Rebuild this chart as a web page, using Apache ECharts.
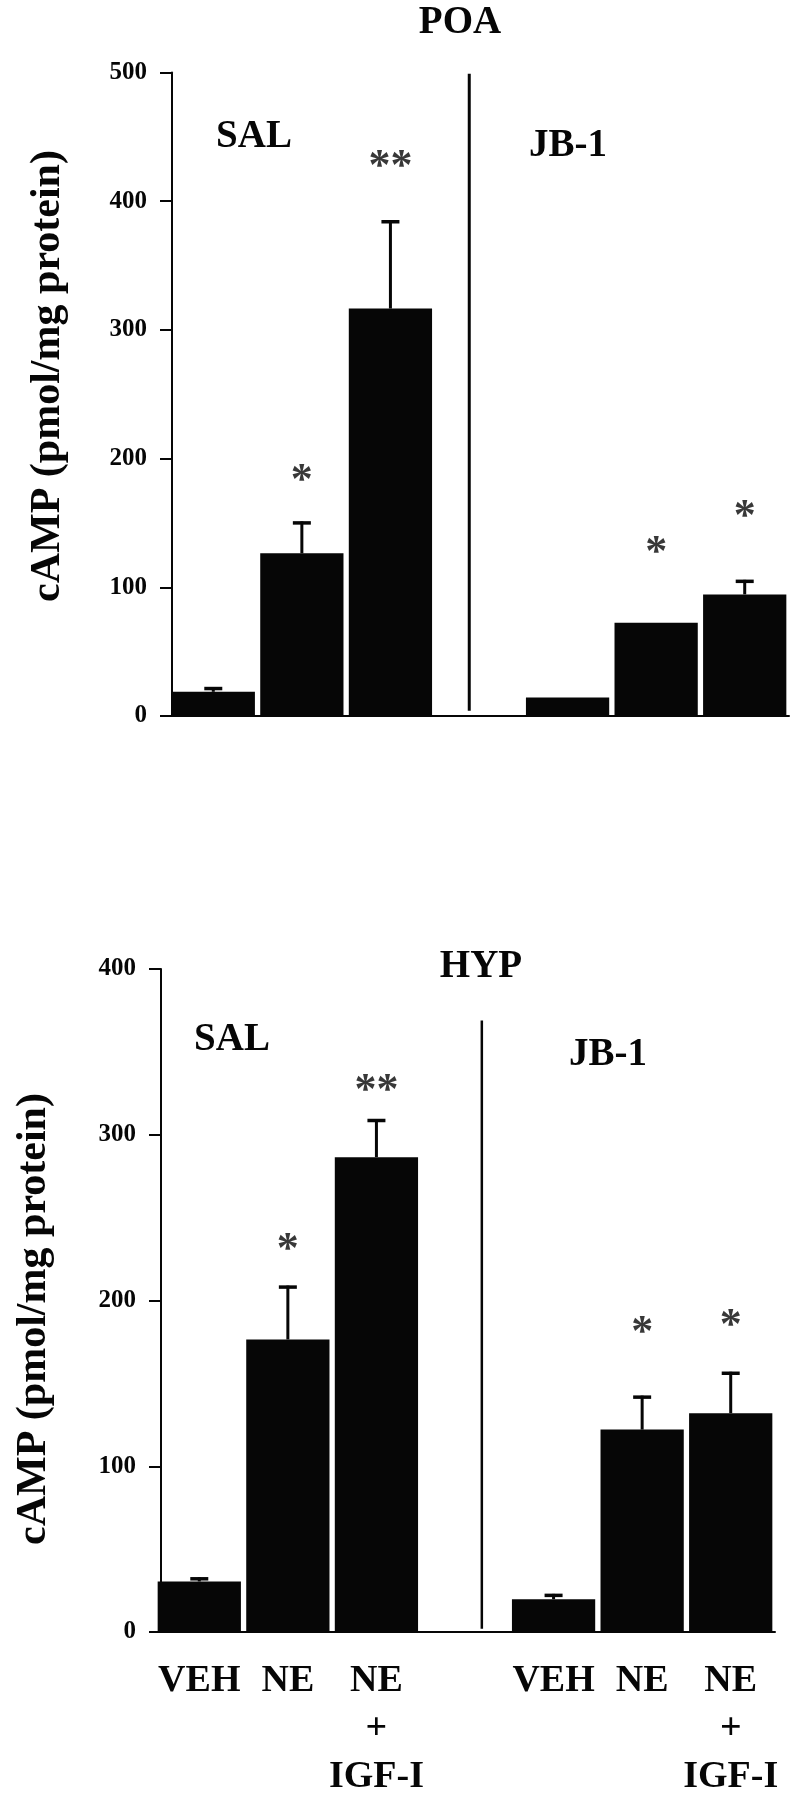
<!DOCTYPE html>
<html>
<head>
<meta charset="utf-8">
<script src="https://cdn.jsdelivr.net/npm/echarts@6/dist/echarts.min.js"></script>
<style>
html,body{margin:0;padding:0;background:#fff;}
#chart{width:795px;height:1800px;}
</style>
</head>
<body>
<div id="chart"></div>
<script>
// ---------- data ----------
const categories = ['VEH', 'NE', 'NE\n+\nIGF-I', '', 'VEH', 'NE', 'NE\n+\nIGF-I'];

const poaValues = [18.8, 126.4, 316.6, null, 14.3, 72.4, 94.5];
const poaErrTop = [22.5, 151.2, 385.2, null, null, null, 105.8];
const poaStars  = ['', '*', '**', '', '', '*', '*'];
const poaStarY  = [null, 188, 432, null, null, 132, 160.5];
const poaYTicks = [0, 500, 100];           // min, max, interval
const poaSeparator = [3.39, 4, 499];       // slot position, from value, to value

const hypValues = [30.5, 176.5, 286.5, null, 19.8, 122.1, 132];
const hypErrTop = [33, 209, 309.5, null, 23, 142.6, 157];
const hypStars  = ['', '*', '**', '', '', '*', '*'];
const hypStarY  = [null, 235, 331, null, null, 185, 189];
const hypYTicks = [0, 400, 100];
const hypSeparator = [3.69, 2, 369];

const panelTitles = ['POA', 'HYP'];
const groupNames = ['SAL', 'JB-1'];
const yName = 'cAMP (pmol/mg protein)';

// ---------- styling ----------
const FONT = '"Liberation Serif", "Times New Roman", serif';
const BLACK = '#060606';

function errData(vals, tops) {
  const out = [];
  vals.forEach((v, i) => { if (v != null && tops[i] != null) out.push([i, v, tops[i]]); });
  return out;
}
function starData(ys, txt) {
  const out = [];
  ys.forEach((y, i) => { if (y != null) out.push({ value: [i, y], star: txt[i] }); });
  return out;
}
function errRender(params, api) {
  const p0 = api.coord([api.value(0), api.value(1)]);
  const p1 = api.coord([api.value(0), api.value(2)]);
  return {
    type: 'group',
    children: [
      { type: 'line', shape: { x1: p0[0], y1: p0[1], x2: p1[0], y2: p1[1] }, style: { stroke: BLACK, lineWidth: 3 } },
      { type: 'line', shape: { x1: p1[0] - 9, y1: p1[1] + 1.5, x2: p1[0] + 9, y2: p1[1] + 1.5 }, style: { stroke: BLACK, lineWidth: 3.5 } }
    ]
  };
}

const grids = [
  { left: 169, width: 620, top: 72.5, height: 643.5, containLabel: false, outerBoundsMode: 'none' },
  { left: 155, width: 620, top: 969, height: 663, containLabel: false, outerBoundsMode: 'none' }
];

function yAxisCfg(gi, ticks, off) {
  return {
    type: 'value', gridIndex: gi, min: ticks[0], max: ticks[1], interval: ticks[2], offset: off,
    axisLine: { show: true, lineStyle: { color: BLACK, width: 2 } },
    axisTick: { show: true, length: 12, lineStyle: { color: BLACK, width: 2 } },
    splitLine: { show: false },
    axisLabel: { color: BLACK, fontFamily: FONT, fontWeight: 'bold', fontSize: 25, margin: 25 }
  };
}

function textEl(x, y, txt, size, rot) {
  return { type: 'text', x: x, y: y, rotation: rot || 0,
    style: { text: txt, fontFamily: FONT, fontWeight: 'bold', fontSize: size, fill: BLACK, align: 'center', verticalAlign: 'middle' } };
}

const option = {
  backgroundColor: '#fff',
  animation: false,
  grid: grids,
  xAxis: [
    { type: 'category', gridIndex: 0, data: categories,
      axisLine: { lineStyle: { color: BLACK, width: 2 } }, axisTick: { show: false }, axisLabel: { show: false } },
    { type: 'category', gridIndex: 1, data: categories,
      axisLine: { lineStyle: { color: BLACK, width: 2 } }, axisTick: { show: false },
      axisLabel: { color: BLACK, fontFamily: FONT, fontWeight: 'bold', fontSize: 38, lineHeight: 48, margin: 25, interval: 0 } },
    { type: 'value', gridIndex: 0, min: 0, max: 7, show: false },
    { type: 'value', gridIndex: 1, min: 0, max: 7, show: false }
  ],
  yAxis: [ yAxisCfg(0, poaYTicks, -3), yAxisCfg(1, hypYTicks, -6) ],
  graphic: [
    textEl(460, 23, panelTitles[0], 39),
    textEl(481, 967, panelTitles[1], 39),
    textEl(254, 137, groupNames[0], 39),
    textEl(568, 146, groupNames[1], 39),
    textEl(232, 1040, groupNames[0], 39),
    textEl(608, 1055, groupNames[1], 39),
    textEl(48, 376, yName, 42, Math.PI / 2),
    textEl(34, 1319, yName, 42, Math.PI / 2)
  ],
  series: [
    { type: 'bar', xAxisIndex: 0, yAxisIndex: 0, data: poaValues, barCategoryGap: '6%', itemStyle: { color: BLACK } },
    { type: 'custom', xAxisIndex: 0, yAxisIndex: 0, data: errData(poaValues, poaErrTop), renderItem: errRender, z: 3 },
    { type: 'scatter', xAxisIndex: 0, yAxisIndex: 0, data: starData(poaStarY, poaStars), symbolSize: 0,
      label: { show: true, position: 'inside', offset: [0, 8], formatter: p => p.data.star, color: BLACK, fontFamily: FONT, fontWeight: 'bold', fontSize: 44 } },
    { type: 'line', xAxisIndex: 2, yAxisIndex: 0, data: [[poaSeparator[0], poaSeparator[1]], [poaSeparator[0], poaSeparator[2]]],
      symbol: 'none', lineStyle: { color: BLACK, width: 3 } },

    { type: 'bar', xAxisIndex: 1, yAxisIndex: 1, data: hypValues, barCategoryGap: '6%', itemStyle: { color: BLACK } },
    { type: 'custom', xAxisIndex: 1, yAxisIndex: 1, data: errData(hypValues, hypErrTop), renderItem: errRender, z: 3 },
    { type: 'scatter', xAxisIndex: 1, yAxisIndex: 1, data: starData(hypStarY, hypStars), symbolSize: 0,
      label: { show: true, position: 'inside', offset: [0, 8], formatter: p => p.data.star, color: BLACK, fontFamily: FONT, fontWeight: 'bold', fontSize: 44 } },
    { type: 'line', xAxisIndex: 3, yAxisIndex: 1, data: [[hypSeparator[0], hypSeparator[1]], [hypSeparator[0], hypSeparator[2]]],
      symbol: 'none', lineStyle: { color: BLACK, width: 2.5 } }
  ]
};

const chart = echarts.init(document.getElementById('chart'), null, { renderer: 'canvas' });
chart.setOption(option);
</script>
</body>
</html>
